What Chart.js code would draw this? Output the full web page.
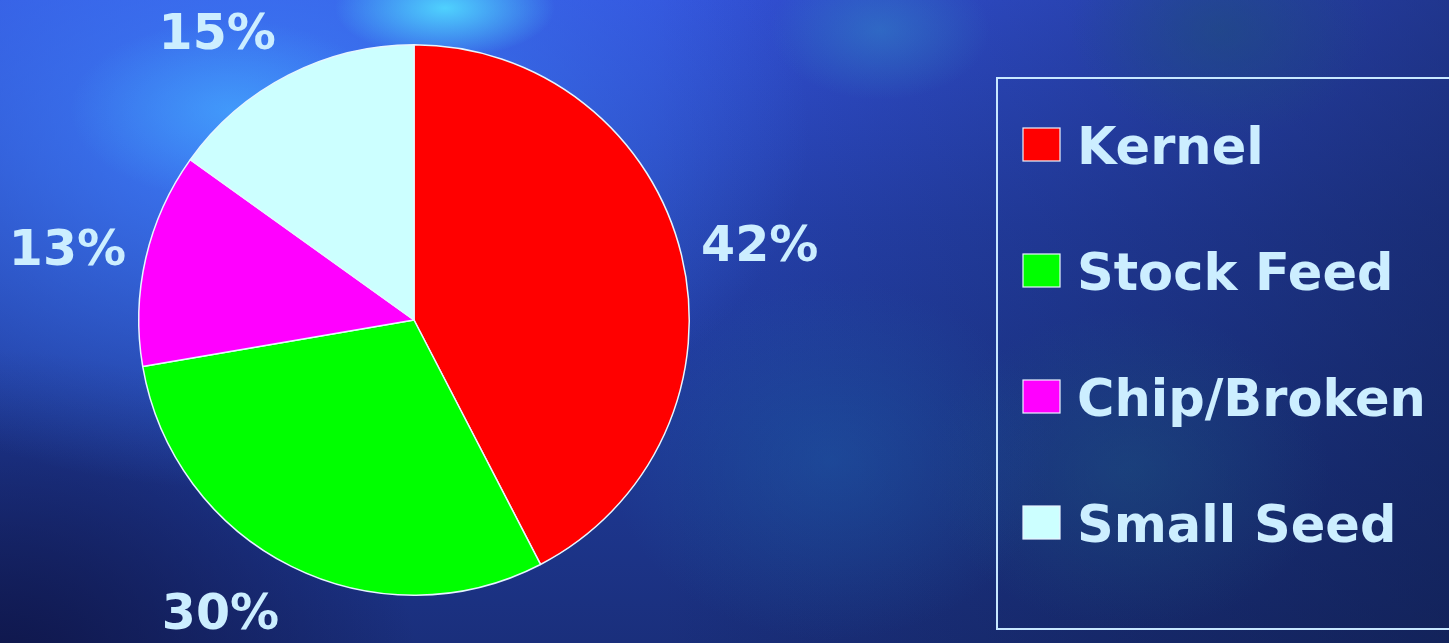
<!DOCTYPE html>
<html>
<head>
<meta charset="utf-8">
<script src="https://cdn.jsdelivr.net/npm/chart.js@4.4.1/dist/chart.umd.min.js"></script>
<style>
html,body{margin:0;padding:0;width:1449px;height:643px;overflow:hidden;}
body{
 background:
  radial-gradient(ellipse 110px 50px at 445px 8px, rgba(80,215,255,0.95), rgba(80,215,255,0) 100%),
  radial-gradient(ellipse 160px 90px at 230px 110px, rgba(70,180,255,0.55), rgba(70,180,255,0) 100%),
  radial-gradient(ellipse 110px 70px at 880px 30px, rgba(50,130,200,0.55), rgba(50,130,200,0) 100%),
  radial-gradient(ellipse 150px 110px at 1220px 30px, rgba(30,80,120,0.5), rgba(30,80,120,0) 100%),
  radial-gradient(ellipse 560px 360px at 250px 130px, rgba(62,125,250,0.95), rgba(62,125,250,0) 100%),
  radial-gradient(ellipse 420px 330px at 0px 680px, rgba(14,20,70,0.95), rgba(14,20,70,0) 100%),
  radial-gradient(ellipse 220px 180px at 830px 460px, rgba(30,95,170,0.45), rgba(30,95,170,0) 100%),
  radial-gradient(ellipse 200px 160px at 1130px 470px, rgba(30,90,130,0.4), rgba(30,90,130,0) 100%),
  linear-gradient(90deg, rgba(10,20,50,0) 45%, rgba(10,20,50,0.45) 100%),
  linear-gradient(180deg, #3352da 0%, #2642b0 35%, #1f3a98 65%, #1a2f7c 100%);
}
#wrap{position:absolute;left:0;top:0;width:1449px;height:643px;}
</style>
</head>
<body>
<div id="wrap"><canvas id="c" width="1449" height="643"></canvas></div>
<script>
const categories = ["Kernel", "Stock Feed", "Chip/Broken", "Small Seed"];
const values = [42.4, 29.9, 12.6, 15.1];
const sliceColors = ["#FF0000", "#00FF00", "#FF00FF", "#CCFFFF"];

const textColor = "#CCEEFF";

const pctLabels = {
  id: "pctLabels",
  afterDatasetsDraw(chart) {
    const ctx = chart.ctx;
    const meta = chart.getDatasetMeta(0);
    const data = chart.data.datasets[0].data;
    const total = data.reduce((a, b) => a + b, 0);
    ctx.save();
    ctx.font = "bold 49px 'DejaVu Sans'";
    ctx.fillStyle = textColor;
    ctx.textAlign = "center";
    ctx.textBaseline = "alphabetic";
    meta.data.forEach((arc, i) => {
      const p = arc.getProps(["x", "y", "startAngle", "endAngle", "outerRadius"], true);
      const mid = (p.startAngle + p.endAngle) / 2;
      const dx = Math.cos(mid), dy = Math.sin(mid);
      const txt = Math.round(data[i] / total * 100) + "%";
      const w = ctx.measureText(txt).width;
      const r = p.outerRadius + 20;
      const ax = p.x + dx * r, ay = p.y + dy * r;
      const cx = ax + Math.sign(dx) * (w / 2 + 6 * (1 - Math.abs(dx)));
      const cy = ay + dy * 30;
      ctx.fillText(txt, cx, cy + 18);
    });
    ctx.restore();
  }
};

const boxLegend = {
  id: "boxLegend",
  afterDraw(chart) {
    const ctx = chart.ctx;
    const labels = chart.data.labels;
    const colors = chart.data.datasets[0].backgroundColor;
    ctx.save();
    ctx.strokeStyle = "#C8E8FF";
    ctx.lineWidth = 2;
    ctx.strokeRect(997, 78, 470, 551);
    ctx.font = "bold 51px 'DejaVu Sans'";
    ctx.textAlign = "left";
    ctx.textBaseline = "alphabetic";
    const top = 144.5, step = 126;
    labels.forEach((lab, i) => {
      const cy = top + i * step;
      ctx.fillStyle = colors[i];
      ctx.fillRect(1023, cy - 16.5, 37, 33);
      ctx.strokeStyle = "#E8F4FF";
      ctx.lineWidth = 1.2;
      ctx.strokeRect(1023, cy - 16.5, 37, 33);
      ctx.fillStyle = textColor;
      ctx.fillText(lab, 1077, cy + 19);
    });
    ctx.restore();
  }
};

new Chart(document.getElementById("c"), {
  type: "pie",
  data: {
    labels: categories,
    datasets: [{
      data: values,
      backgroundColor: sliceColors,
      borderColor: "#E6F6FF",
      borderWidth: 1.5
    }]
  },
  options: {
    responsive: false,
    animation: false,
    layout: { padding: { left: 138, right: 759, top: 44, bottom: 47 } },
    plugins: {
      legend: { display: false },
      tooltip: { enabled: false }
    }
  },
  plugins: [pctLabels, boxLegend]
});
</script>
</body>
</html>
